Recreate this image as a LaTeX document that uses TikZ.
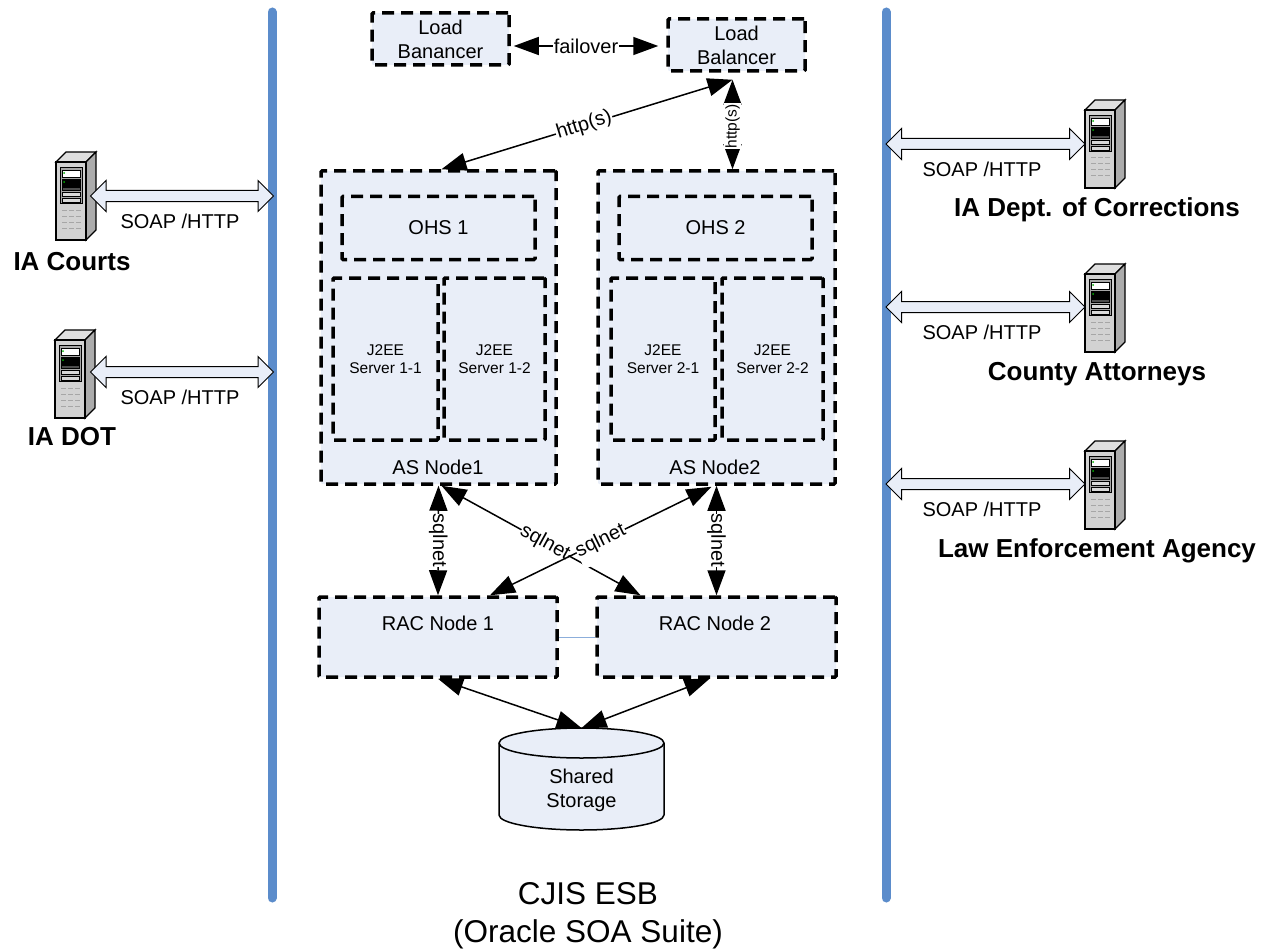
\documentclass[tikz,border=0pt]{standalone}
\usepackage{fontspec}
\setmainfont{Liberation Sans}
\usetikzlibrary{arrows.meta,calc,shapes.arrows}
\definecolor{railblue}{HTML}{5B8CCB}
\definecolor{boxfill}{HTML}{E9EEF8}
\begin{document}
\begin{tikzpicture}[x=1pt,y=-1pt]
\tikzstyle{every node}=[font=\fontsize{20}{24}\selectfont,align=center,inner sep=1pt]
\tikzstyle{dashbox}=[draw,line width=3.5pt,dash pattern=on 12pt off 7pt,fill=boxfill,rounded corners=1pt,inner sep=0pt]
\tikzstyle{link}=[line width=1.5pt,{Triangle[length=25pt,width=18pt]}-{Triangle[length=25pt,width=18pt]}]
\tikzstyle{soap}=[draw,line width=1pt,fill=boxfill,double arrow,double arrow head extend=10pt,double arrow head indent=0pt,minimum width=30pt,inner sep=5pt]
\tikzstyle{soaptext}=[font=\fontsize{20}{24}\selectfont]
\tikzstyle{system}=[font=\fontsize{26}{30}\selectfont\bfseries]
\tikzstyle{small}=[font=\fontsize{15.5}{18.5}\selectfont]
\tikzstyle{rail}=[line width=9pt,railblue,line cap=round]
\tikzset{server/.pic={
  \draw[line width=1.3pt,fill=gray!25] (0,10) -- (10,0) -- (40,0) -- (30,10) -- cycle;
  \draw[line width=1.3pt,fill=gray!65] (30,10) -- (40,0) -- (40,78) -- (30,88) -- cycle;
  \draw[line width=1.3pt,fill=gray!35] (0,10) rectangle (30,88);
  \draw[fill=gray!70] (4,15) rectangle (26,51);
  \draw[fill=white] (6,18) rectangle (24,25);
  \draw[fill=black] (6,27) rectangle (24,34);
  \draw[fill=black!70] (6,35) rectangle (24,38);
  \draw[fill=gray!30] (6,40) rectangle (24,44);
  \draw[fill=gray!30] (6,46) rectangle (24,50);
  \draw[gray!70,line width=1pt,dash pattern=on 5pt off 2pt] (6,58) -- (25,58) (6,64) -- (25,64) (6,70) -- (25,70) (6,76) -- (25,76);
  \fill[green!70!black] (8,21) circle (1pt) (8,30) circle (1pt);
}}
%\draw [red!40](0,0) grid[step=100] (1268,952);
\useasboundingbox (0,0) rectangle (1268,952);

\coordinate (railLtop) at (272,12);
\coordinate (railLbot) at (272,898);
\coordinate (railRtop) at (886,12);
\coordinate (railRbot) at (886,898);
\draw [rail] (railLtop) -- (railLbot);
\draw [rail] (railRtop) -- (railRbot);

% load balancers
\node (lbone) at (440.5,39) [dashbox,minimum width=137,minimum height=52] {Load\\Banancer};
\node (lbtwo) at (736.5,45) [dashbox,minimum width=137,minimum height=52] {Load\\Balancer};
\coordinate (lbport) at ($(lbtwo.south)+(-4,7)$);
\coordinate (lboneport) at ($(lbone.east)+(3,7)$);
\coordinate (lbtwoport) at ($(lbtwo.west)+(-8,1)$);

% application server nodes
\node (asone) at (438.5,327.5) [dashbox,minimum width=235,minimum height=313] {};
\node (astwo) at (716.5,327.5) [dashbox,minimum width=237,minimum height=313] {};
\node (ohsone) at (438.5,228) [dashbox,minimum width=193,minimum height=63] {OHS 1};
\node (ohstwo) at (715.5,228) [dashbox,minimum width=193,minimum height=63] {OHS 2};
\node (jeeoneone) at (385.5,359) [dashbox,small,minimum width=105,minimum height=162] {J2EE\\Server 1-1};
\node (jeeonetwo) at (494.5,359) [dashbox,small,minimum width=101,minimum height=162] {J2EE\\Server 1-2};
\node (jeetwoone) at (663,359) [dashbox,small,minimum width=104,minimum height=162] {J2EE\\Server 2-1};
\node (jeetwotwo) at (772.5,359) [dashbox,small,minimum width=101,minimum height=162] {J2EE\\Server 2-2};
\node (asonetext) at (438,467) {AS Node1};
\node (astwotext) at (715,467) {AS Node2};

% database
\node (racone) at (438,637) [dashbox,minimum width=238,minimum height=80] {};
\node (ractwo) at (716.5,637) [dashbox,minimum width=239,minimum height=80] {};
\node (raconetext) at (438,623) {RAC Node 1};
\node (ractwotext) at (715,623) {RAC Node 2};
\draw [railblue!70,line width=1pt] (racone.east) -- (ractwo.west);
\coordinate (storage) at (581.5,728);
\draw [line width=1.5pt,fill=boxfill] (499,743) -- (499,815) arc [start angle=180,end angle=0,x radius=82.5,y radius=15] -- (664,743) arc [start angle=0,end angle=-180,x radius=82.5,y radius=15] -- cycle;
\draw [line width=1.5pt] (499,743) arc [start angle=180,end angle=0,x radius=82.5,y radius=15];
\node (storagetext) at (581.5,790) {Shared\\Storage};

% links
\draw [link] (lboneport) -- node [fill=white] {failover} (lbtwoport);
\coordinate (httpone) at ($(asone.north)+(3,0)$);
\draw [link] (httpone) -- node [pos=0.49,sloped,fill=white] {http(s)} (lbport);
\draw [link] (astwo.north -| lbport) -- node [pos=0.48,rotate=90,fill=white,small] {http(s)} (lbport);
\draw [link] (asone.south) -- node [rotate=-90,fill=white,pos=0.5,inner sep=0pt] {sqlnet} (racone.north);
\draw [link] (astwo.south) -- node [rotate=-90,fill=white,pos=0.5,inner sep=0pt] {sqlnet} (ractwo.north);
\coordinate (crossAone) at ($(asone.south)+(3,0)$);
\coordinate (crossRtwo) at ($(ractwo.north)+(-76,0)$);
\coordinate (crossAtwo) at ($(astwo.south)+(-5,1)$);
\coordinate (crossRone) at ($(racone.north)+(52,0)$);
\draw [link] (crossAone) -- node [pos=0.52,sloped,fill=white,inner sep=0pt] {sqlnet} (crossRtwo);
\draw [link] (crossAtwo) -- node [pos=0.5,sloped,fill=white,inner xsep=0pt,inner ysep=9pt] {sqlnet} (crossRone);
\coordinate (ractwoport) at ($(ractwo.south)+(-7,0)$);
\draw [link] (racone.south) -- (storage);
\draw [link] (ractwoport) -- (storage);

% systems on the left
\path (56,152) pic {server};
\path (55,330) pic {server};
\node (courtsarrow) at (182,196) [soap,minimum height=183] {};
\node (dotarrow) at (182,372) [soap,minimum height=183] {};
\node (courtssoap) at (180,221) [soaptext] {SOAP /HTTP};
\node (dotsoap) at (180,397) [soaptext] {SOAP /HTTP};
\node (courts) at (72,262) [system] {IA Courts};
\node (dot) at (72,437) [system] {IA DOT};

% systems on the right
\path (1085,100) pic {server};
\path (1085,264) pic {server};
\path (1085,441) pic {server};
\node (corrarrow) at (985.5,144) [soap,minimum height=199] {};
\node (countyarrow) at (985.5,307) [soap,minimum height=199] {};
\node (lawarrow) at (985.5,484) [soap,minimum height=199] {};
\node (corrsoap) at (982,169) [soaptext] {SOAP /HTTP};
\node (countysoap) at (982,332) [soaptext] {SOAP /HTTP};
\node (lawsoap) at (982,509) [soaptext] {SOAP /HTTP};
\node (corr) at (1097,210) [system] {IA Dept. of Corrections};
\node (county) at (1097,374) [system] {County Attorneys};
\node (law) at (1097,551) [system] {Law Enforcement Agency};

\node (esb) at (588,916) [font=\fontsize{31.5}{38}\selectfont] {CJIS ESB\\(Oracle SOA Suite)};
\end{tikzpicture}
\end{document}
